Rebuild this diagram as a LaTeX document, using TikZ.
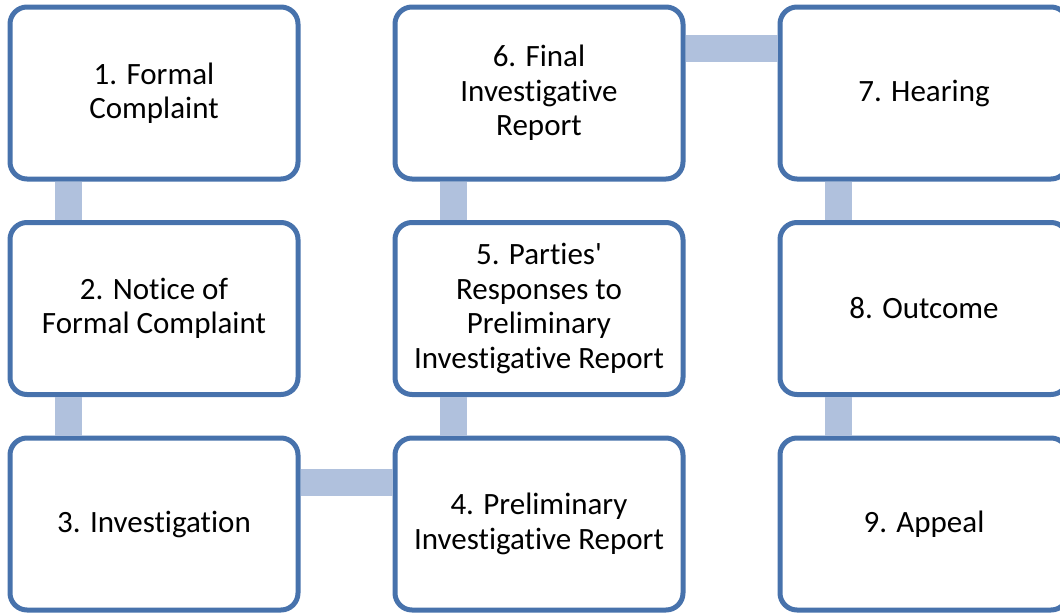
\documentclass[tikz,border=0pt]{standalone}
\usepackage{fontspec}
\newfontfamily\boxfont{Carlito}[Ligatures={NoCommon,NoContextual}]
\definecolor{boxline}{RGB}{71,114,172}
\definecolor{barfill}{RGB}{176,193,221}
\tikzset{
  stepbox/.style={draw=boxline, line width=5pt, fill=white, rectangle,
    rounded corners=17pt, minimum width=288pt, minimum height=172pt,
    inner sep=0pt, align=center, text=black,
    font=\boxfont\fontsize{31}{34.5}\selectfont},
  linkbar/.style={draw=barfill, line width=27pt, line cap=butt}
}
\begin{document}
\begin{tikzpicture}[x=1pt,y=-1pt]
\useasboundingbox (0,0) rectangle (1060,613);
\clip (0,0) rectangle (1060,613);
\node[stepbox] (n1) at (154,93) {1. Formal\\Complaint};
\node[stepbox] (n2) at (154,308.5) {2. Notice of\\Formal Complaint};
\node[stepbox] (n3) at (154,524) {3. Investigation};
\node[stepbox] (n4) at (539,524) {4. Preliminary\\Investigative Report};
\node[stepbox] (n5) at (539,308.5) {5. Parties'\\Responses to\\Preliminary\\Investigative Report};
\node[stepbox] (n6) at (539,93) {6. Final\\Investigative\\Report};
\node[stepbox] (n7) at (924,93) {7. Hearing};
\node[stepbox] (n8) at (924,308.5) {8. Outcome};
\node[stepbox] (n9) at (924,524) {9. Appeal};
\draw[linkbar] ([xshift=-85.5pt]n1.south) -- ([xshift=-85.5pt]n2.north);
\draw[linkbar] ([xshift=-85.5pt]n2.south) -- ([xshift=-85.5pt]n3.north);
\draw[linkbar] ([yshift=42pt]n3.east) -- ([yshift=42pt]n4.west);
\draw[linkbar] ([xshift=-85.5pt]n4.north) -- ([xshift=-85.5pt]n5.south);
\draw[linkbar] ([xshift=-85.5pt]n5.north) -- ([xshift=-85.5pt]n6.south);
\draw[linkbar] ([yshift=44.5pt]n6.east) -- ([yshift=44.5pt]n7.west);
\draw[linkbar] ([xshift=-85.5pt]n7.south) -- ([xshift=-85.5pt]n8.north);
\draw[linkbar] ([xshift=-85.5pt]n8.south) -- ([xshift=-85.5pt]n9.north);
\end{tikzpicture}
\end{document}
